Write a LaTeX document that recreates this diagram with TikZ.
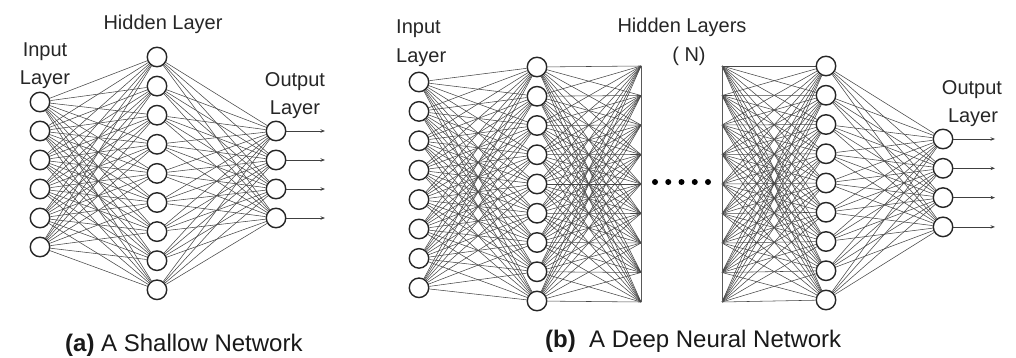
\documentclass[tikz,border=0pt]{standalone}
\usepackage{fontspec}
\setmainfont{Liberation Sans}
\usetikzlibrary{arrows.meta,backgrounds}
\begin{document}
\begin{tikzpicture}[x=1pt,y=-1pt,
  neuron/.style={circle,draw=black!85,line width=1.4pt,fill=white,minimum size=19.5pt,inner sep=0pt},
  link/.style={draw=black!72,line width=0.55pt},
  outarrow/.style={draw=black!75,line width=0.8pt,-{Stealth[length=4.5pt,width=3.5pt]}},
  lbl/.style={font=\fontsize{20}{22}\selectfont,text=black!85,inner sep=0pt,anchor=base},
  lblw/.style={lbl,anchor=base west},
  captext/.style={font=\fontsize{24}{26}\selectfont,text=black!90,inner sep=0pt,anchor=base west},
  dotmark/.style={circle,fill=black,minimum size=6pt,inner sep=0pt},
  cutline/.style={draw=black!65,line width=0.7pt}]
\useasboundingbox (0,0) rectangle (1016,358);

% ---------- (a) shallow network ----------
\foreach \i in {1,...,6} \node[neuron] (si\i) at (40,{102+29*(\i-1)}) {};
\foreach \i in {1,...,9} \node[neuron] (sh\i) at (157,{57+29.1*(\i-1)}) {};
\foreach \i in {1,...,4} {
  \node[neuron] (so\i) at (276,{131+29*(\i-1)}) {};
  \coordinate (sa\i) at (325,{131+29*(\i-1)});
  \draw[outarrow] (so\i) -- (sa\i);
}
\begin{pgfonlayer}{background}
\foreach \i in {1,...,6} \foreach \j in {1,...,9} \draw[link] (si\i) -- (sh\j);
\foreach \i in {1,...,9} \foreach \j in {1,...,4} \draw[link] (sh\i) -- (so\j);
\end{pgfonlayer}

\node[lbl] (sInput) at (45,57) {Input};
\node[lbl] (sInLayer) at (45,85) {Layer};
\node[lbl] (sHidden) at (163,30) {Hidden Layer};
\node[lbl] (sOutput) at (295,87) {Output};
\node[lbl] (sOutLayer) at (295,115) {Layer};
\node[captext] (capA) at (65,351) {\textbf{(a)} A Shallow Network};

% ---------- (b) deep network ----------
\foreach \i in {1,...,8} \node[neuron] (di\i) at (419,{82+29.4*(\i-1)}) {};
\foreach \i in {1,...,9} {
  \node[neuron] (dh\i) at (537,{67+29.25*(\i-1)}) {};
  \coordinate (ca\i) at (641,{66+29.5*(\i-1)});
  \coordinate (cb\i) at (722,{66+29.5*(\i-1)});
  \node[neuron] (dn\i) at (826,{66+29.25*(\i-1)}) {};
}
\foreach \i in {1,...,4} {
  \node[neuron] (do\i) at (943,{139+29.3*(\i-1)}) {};
  \coordinate (da\i) at (995,{139+29.3*(\i-1)});
  \draw[outarrow] (do\i) -- (da\i);
}
\begin{pgfonlayer}{background}
\foreach \i in {1,...,8} \foreach \j in {1,...,9} \draw[link] (di\i) -- (dh\j);
\foreach \i in {1,...,9} \foreach \j in {1,...,9} \draw[link] (dh\i) -- (ca\j);
\foreach \i in {1,...,9} \foreach \j in {1,...,9} \draw[link] (cb\i) -- (dn\j);
\foreach \i in {1,...,9} \foreach \j in {1,...,4} \draw[link] (dn\i) -- (do\j);
\draw[cutline] (ca1) -- (ca9);
\draw[cutline] (cb1) -- (cb9);
\end{pgfonlayer}
\foreach \k in {1,...,5} \node[dotmark] (dot\k) at ({655+13.25*(\k-1)},182) {};

\node[lblw] (dInput) at (396,34) {Input};
\node[lblw] (dInLayer) at (396,63) {Layer};
\node[lbl] (dHidden) at (682,33) {Hidden Layers};
\node[lbl] (dN) at (689,62) {( N)};
\node[lbl] (dOutput) at (972,95) {Output};
\node[lbl] (dOutLayer) at (973,123) {Layer};
\node[captext] (capB) at (545,347) {\textbf{(b)}\ \ A Deep Neural Network};
\end{tikzpicture}
\end{document}
